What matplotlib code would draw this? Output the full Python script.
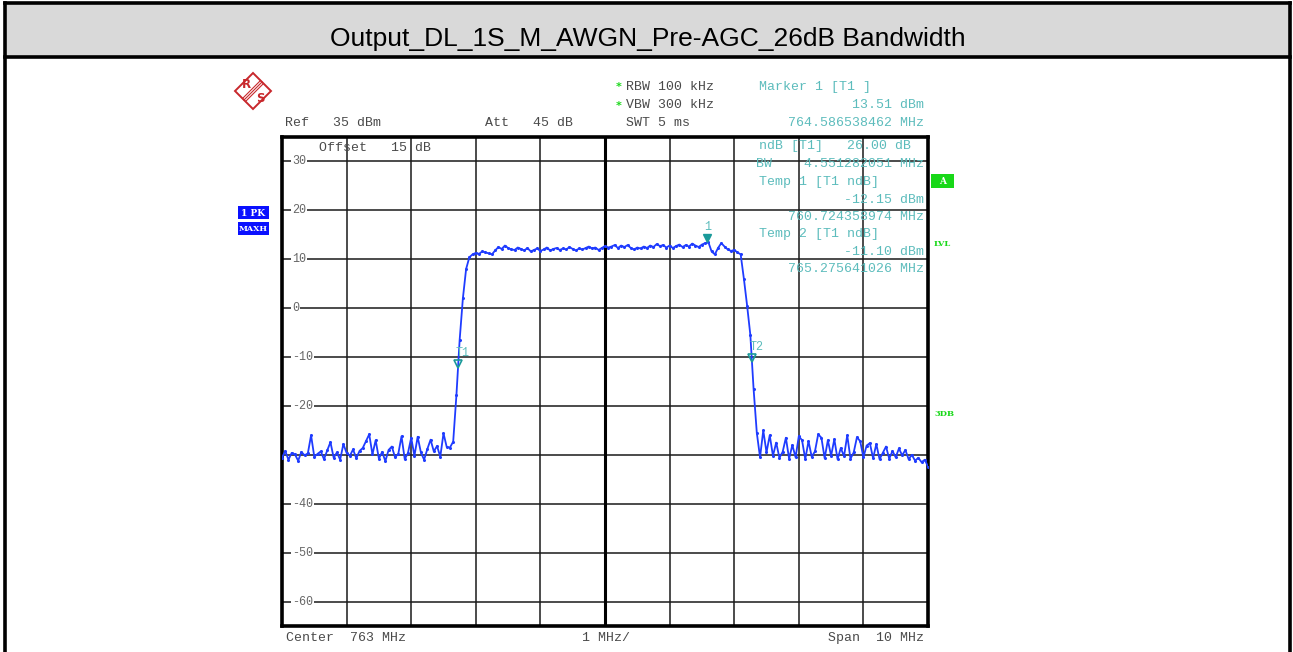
import numpy as np
import matplotlib
matplotlib.use("Agg")
import matplotlib.pyplot as plt
from matplotlib.patches import Rectangle, Polygon
from matplotlib.lines import Line2D
from matplotlib.transforms import offset_copy

W, H = 1293, 652

# ---------------- data ----------------
title = "Output_DL_1S_M_AWGN_Pre-AGC_26dB Bandwidth"
start_mhz, stop_mhz = 758.0, 768.0
ref_dbm, bottom_dbm = 35, -65
freq_grid = [759, 760, 761, 762, 763, 764, 765, 766, 767]
level_grid = [30, 20, 10, 0, -10, -20, -30, -40, -50, -60]
level_labels = ["30", "20", "10", "0", "-10", "-20", "", "-40", "-50", "-60"]

left_floor = [-30.6, -29.2, -31.0, -29.6, -29.9, -31.2, -29.4, -30.1, -29.7, -26.0,
              -30.4, -29.8, -29.3, -30.9, -29.1, -27.4, -30.6, -29.5, -31.0, -27.8,
              -29.6, -30.2, -28.9, -30.7, -29.2, -28.6, -27.2, -25.8, -29.9, -27.0,
              -30.8, -29.4, -31.3, -29.0, -28.3, -30.5, -29.8, -26.2, -30.9, -29.6,
              -26.5, -30.2, -26.3, -29.5, -31.0, -28.8, -26.9, -29.3, -28.2, -30.4,
              -25.6, -28.4]
rise = [-28.5, -27.3, -17.8, -6.5, 2.0, 8.0, 10.4]
plateau = [11.0,
           11.3, 11.1, 11.6, 11.4, 11.2, 11.0, 11.8, 12.5, 12.1, 12.8,
           12.3, 12.0, 11.9, 12.4, 12.1, 11.8, 12.3, 11.6, 11.9, 12.2,
           11.7, 12.0, 12.4, 11.8, 12.1, 12.3, 11.9, 12.2, 12.0, 12.5,
           12.1, 11.8, 12.2, 12.0, 12.3, 12.6, 12.2, 12.4, 11.9, 12.3,
           12.7, 12.4, 12.6, 12.9, 12.3, 12.8, 12.5, 12.9, 12.3, 12.0,
           12.4, 12.2, 12.6, 12.3, 12.8, 12.5, 13.1, 12.7, 12.9, 12.4,
           12.8, 12.3, 12.7, 13.0, 12.5, 12.9, 12.6, 13.2, 12.8, 12.5,
           13.0, 13.3, 13.5, 11.6, 11.0, 12.3, 13.3, 12.6, 12.0, 11.7,
           11.9, 11.4]
fall = [11.0, 6.0, 0.5, -5.5, -16.5, -25.5, -30.5]
right_floor = [-25.0, -29.5, -26.0, -30.2, -27.5, -30.6, -29.4, -26.5, -30.8, -28.0,
               -30.5, -26.2, -27.0, -30.9, -27.2, -30.4, -29.3, -25.8, -26.5, -30.7,
               -27.0, -30.2, -26.8, -30.9, -28.6, -30.3, -26.0, -30.8, -29.5, -26.4,
               -27.2, -30.5, -28.1, -27.6, -30.7, -27.8, -30.9, -29.6, -28.3, -30.8,
               -29.2, -30.5, -28.7, -30.1, -29.0, -30.9, -30.0, -31.2, -30.6, -31.5,
               -31.0, -32.4]
level_dbm = left_floor + rise + plateau + fall + right_floor
assert len(level_dbm) == 201, len(level_dbm)
freq_mhz = np.linspace(start_mhz, stop_mhz, len(level_dbm))

marker1_mhz, marker1_dbm = 764.586538462, 13.51
t1_mhz, t1_dbm = 760.724358974, -12.15
t2_mhz, t2_dbm = 765.275641026, -11.10

header_left = ["Ref   35 dBm", "Att   45 dB"]
header_mid = ["RBW 100 kHz", "VBW 300 kHz", "SWT 5 ms"]
marker_lines_left = ["Marker 1 [T1 ]", "ndB [T1]   26.00 dB", "Temp 1 [T1 ndB]", "Temp 2 [T1 ndB]"]
marker_lines_right = ["13.51 dBm", "764.586538462 MHz", "BW    4.551282051 MHz",
                      "-12.15 dBm", "760.724358974 MHz", "-11.10 dBm", "765.275641026 MHz"]
footer = ["Center  763 MHz", "1 MHz/", "Span  10 MHz"]

# ---------------- style ----------------
MONO = "Liberation Mono"
GRAY = "#4a4a4a"
TEAL_TXT = "#5cbcbc"
TEAL_MK = "#1a9a9a"
TRACE = "#1f3cff"
GREEN = "#18d818"


def fx(x):
    return x / W


def fy(y):
    return 1 - y / H


fig = plt.figure(figsize=(W / 100, H / 100), dpi=100)
fig.patch.set_facecolor("white")

# background canvas in pixel coordinates
bg = fig.add_axes([0, 0, 1, 1], zorder=-1)
bg.set_xlim(0, W)
bg.set_ylim(H, 0)
bg.axis("off")
bg.add_patch(Rectangle((5, 3), 1285, 54, facecolor="#d9d9d9", edgecolor="none"))
for (x0, y0, x1, y1) in [(5, 3, 1290, 3), (5, 57, 1290, 57), (5, 3, 5, H), (1290, 3, 1290, H)]:
    bg.add_line(Line2D([x0, x1], [y0, y1], color="black", lw=2.6, solid_capstyle="projecting"))
bg.text(648, 39, title, ha="center", va="center", fontsize=19,
        family="Liberation Sans", color="black")

# R&S logo
cx, cy, r = 253, 91, 18
red = "#c8282c"
bg.add_patch(Polygon([(cx, cy - r), (cx + r, cy), (cx, cy + r), (cx - r, cy)],
                     closed=True, facecolor="white", edgecolor=red, lw=1.4))
for k in (-1.5, 0, 1.5):
    bg.add_line(Line2D([cx - 9 + k, cx + 9 + k], [cy + 9 + k, cy - 9 + k], color=red, lw=0.8))
bg.text(cx - 7, cy - 6, "R", ha="center", va="center", fontsize=8.5, color=red,
        family="DejaVu Sans", weight="bold")
bg.text(cx + 7, cy + 7, "S", ha="center", va="center", fontsize=8.5, color=red,
        family="DejaVu Sans", weight="bold")

# side boxes
bg.add_patch(Rectangle((238, 206), 31, 13, facecolor="#0a10ff", edgecolor="none"))
bg.add_patch(Rectangle((238, 222), 31, 13, facecolor="#0a10ff", edgecolor="none"))
bg.text(253.5, 213, "1 PK", ha="center", va="center", fontsize=6.5, color="white",
        family="DejaVu Serif", weight="bold")
bg.text(253.5, 229, "MAXH", ha="center", va="center", fontsize=5.8, color="white",
        family="DejaVu Serif", weight="bold")
bg.add_patch(Rectangle((931, 174), 23, 14, facecolor=GREEN, edgecolor="none"))
bg.text(942.5, 181.5, "A", ha="center", va="center", fontsize=6.5, color="white",
        family="DejaVu Serif", weight="bold")
bg.text(934, 244, "LVL", ha="left", va="center", fontsize=6, color=GREEN,
        family="DejaVu Serif", weight="bold")
bg.text(934, 414, "3DB", ha="left", va="center", fontsize=6, color=GREEN,
        family="DejaVu Serif", weight="bold")

# ---------------- main plot ----------------
ax = fig.add_axes([fx(282), fy(626), (928 - 282) / W, (626 - 137) / H], zorder=1)
ax.set_facecolor("white")
ax.set_xlim(start_mhz, stop_mhz)
ax.set_ylim(bottom_dbm, ref_dbm)
ax.set_xticks(freq_grid)
ax.set_yticks(level_grid)
ax.tick_params(length=0, labelbottom=False, labelleft=False)
ax.grid(True, color="#1a1a1a", lw=1.1)
ax.axvline(763, color="black", lw=2.2)
for s in ax.spines.values():
    s.set_linewidth(2.6)
    s.set_color("black")

for v, lab in zip(level_grid, level_labels):
    if lab:
        ax.text(0.0155, v, lab, transform=ax.get_yaxis_transform(), ha="left", va="center",
                fontsize=8.5, family=MONO, color="#666666", zorder=3,
                bbox=dict(facecolor="white", edgecolor="none", pad=0.6))

ax.plot(freq_mhz, level_dbm, color=TRACE, lw=1.3, marker=".", ms=2.4, zorder=5)

up4 = offset_copy(ax.transData, fig=fig, x=0, y=4, units="dots")
ax.plot([t1_mhz], [t1_dbm], marker="v", ms=6, mfc="none", mec=TEAL_MK, mew=1.2,
        transform=up4, zorder=6)
ax.plot([t2_mhz], [t2_dbm], marker="v", ms=6, mfc="none", mec=TEAL_MK, mew=1.2,
        transform=up4, zorder=6)
ax.plot([marker1_mhz], [marker1_dbm], marker="v", ms=6, mfc=TEAL_MK, mec=TEAL_MK,
        transform=up4, zorder=6)
up15 = offset_copy(ax.transData, fig=fig, x=5, y=15, units="dots")
ax.text(t1_mhz, t1_dbm, "T1", transform=up15, ha="center", va="center", fontsize=8.5,
        family=MONO, color=TEAL_TXT, zorder=6)
ax.text(t2_mhz, t2_dbm, "T2", transform=up15, ha="center", va="center", fontsize=8.5,
        family=MONO, color=TEAL_TXT, zorder=6)
up1 = offset_copy(ax.transData, fig=fig, x=0, y=15, units="dots")
ax.text(marker1_mhz, marker1_dbm, "1", transform=up1, ha="center", va="center",
        fontsize=8.5, family=MONO, color=TEAL_TXT, zorder=6)

# ---------------- header / footer texts ----------------
FS = 9.5
fig.text(fx(285), fy(123), header_left[0], ha="left", va="center", fontsize=FS, family=MONO, color=GRAY)
fig.text(fx(485), fy(123), header_left[1], ha="left", va="center", fontsize=FS, family=MONO, color=GRAY)
for y, s in zip([87, 105.5, 123], header_mid):
    fig.text(fx(626), fy(y), s, ha="left", va="center", fontsize=FS, family=MONO, color=GRAY)
for y in [87, 105.5]:
    fig.text(fx(619), fy(y), "*", ha="center", va="center", fontsize=8, family="DejaVu Sans",
             color=GREEN, weight="bold")
fig.text(fx(319), fy(148), "Offset   15 dB", ha="left", va="center", fontsize=FS, family=MONO, color=GRAY)

for y, s in zip([87, 146.5, 182.5, 234.5], marker_lines_left):
    fig.text(fx(759), fy(y), s, ha="left", va="center", fontsize=FS, family=MONO, color=TEAL_TXT)
for y, s in zip([105.5, 123, 164, 199.5, 217, 251.5, 268.5], marker_lines_right):
    fig.text(fx(924), fy(y), s, ha="right", va="center", fontsize=FS, family=MONO, color=TEAL_TXT)

fig.text(fx(286), fy(638), footer[0], ha="left", va="center", fontsize=FS, family=MONO, color=GRAY)
fig.text(fx(606), fy(638), footer[1], ha="center", va="center", fontsize=FS, family=MONO, color=GRAY)
fig.text(fx(924), fy(638), footer[2], ha="right", va="center", fontsize=FS, family=MONO, color=GRAY)

fig.savefig("out.png", dpi=100, facecolor="white")
